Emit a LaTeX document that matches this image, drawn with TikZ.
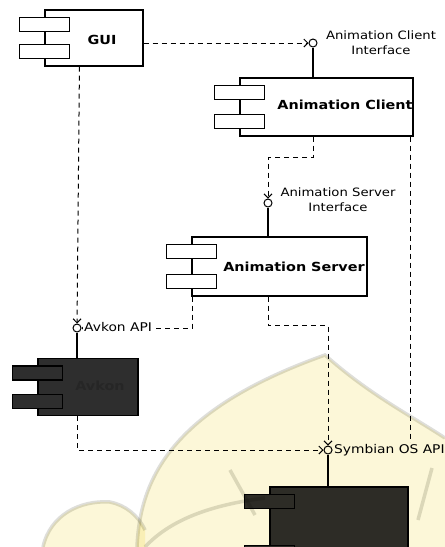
\documentclass[tikz,border=0pt]{standalone}
\usepackage{fontspec}
\setmainfont{DejaVu Sans}
\newfontfamily\widefont[FakeStretch=1.15]{DejaVu Sans}
\usetikzlibrary{arrows.meta,calc}
\definecolor{darkbox}{HTML}{2E2E2E}
\definecolor{wmfill}{HTML}{FCF7D8}
\definecolor{wmline}{HTML}{DEDEDA}
\tikzset{
  box/.style={draw=black, line width=1.1pt, inner sep=0pt},
  port/.style={draw=black, line width=1.1pt, minimum width=50pt, minimum height=14pt, inner sep=0pt},
  lolli/.style={circle, draw=black, fill=white, line width=1pt, minimum size=8pt, inner sep=0pt},
  dep/.style={draw=black, line width=1pt, dash pattern=on 5pt off 4pt, -{Straight Barb[length=4pt,width=8pt]}},
  wire/.style={draw=black, line width=1.3pt},
  cname/.style={font=\widefont\bfseries\fontsize{12.5}{13}\selectfont, inner sep=0pt},
  iname/.style={font=\widefont\fontsize{11.5}{15}\selectfont, align=center, inner sep=1pt, fill=white},
  bname/.style={font=\widefont\fontsize{12}{15}\selectfont, inner sep=1pt, fill=white},
}
\newcommand\umlcomp[6]{%
  \node[box, fill=#6, minimum width=#4pt, minimum height=#5pt] (#1) at (#2,#3) {};
  \node[port, fill=#6] (#1pa) at ($(#1.north west)+(0,15)$) {};
  \node[port, fill=#6] (#1pb) at ($(#1.south west)+(0,-15)$) {};
}
\begin{document}
\begin{tikzpicture}[x=1pt, y=-1pt]
\clip (0,0) rectangle (445,547);
\fill[white] (0,0) rectangle (445,547);

% components
\umlcomp{gui}{94}{38}{98}{56}{white}
\umlcomp{ac}{326.5}{107}{173}{58}{white}
\umlcomp{as}{279.5}{266.5}{175}{59}{white}
\umlcomp{avkon}{88}{387}{100}{57}{darkbox}
\umlcomp{sy}{339}{527}{138}{80}{darkbox}

\node[cname] (guit) at (102,40) {GUI};
\node[cname] (act) at (345,105) {Animation Client};
\node[cname] (ast) at (294,267) {Animation Server};
\node[cname, text=black!85] (avt) at (100,386) {Avkon};

% interfaces
\node[lolli] (acI) at (313,43) {};
\node[lolli] (asI) at (268,203) {};
\node[lolli] (avI) at (77,328) {};
\node[lolli] (syI) at (328,450) {};

% connectors
\draw[dep] (gui.east |- acI) -- (acI);
\draw[wire] (acI) -- (acI |- ac.north);
\draw[dep] (acI |- ac.south) -- ++(0,21) -| (asI);
\draw[wire] (asI) -- (asI |- as.north);
\draw[dep] ($(gui.south west)+(35,0)$) -- (avI);
\draw[wire] (avI) -- (avI |- avkon.north);
\draw[dep] ($(as.south west)+(1,0)$) |- (avI);
\draw[dep] (asI |- as.south) -- ++(0,29) -| (syI);
\draw[dep] ($(ac.south east)+(-3,0)$) |- (syI);
\draw[dep] (avI |- avkon.south) |- (syI);
\draw[wire] (syI) -- (syI |- sy.north);

% interface labels
\node[iname] (acL) at (381,43) {Animation Client\\Interface};
\node[iname] (asL) at (338,200) {Animation Server\\Interface};
\node[bname, anchor=west] (avL) at (83,327) {Avkon API};
\node[bname, anchor=west] (syL) at (333,450) {Symbian OS API};

% watermark (scan background)
\begin{scope}[blend mode=multiply]
\fill[wmfill] (137,547) .. controls (140,480) and (170,410) .. (325,355)
   .. controls (370,395) and (410,415) .. (445,438) -- (445,547) -- cycle;
\fill[wmfill] (43,547) .. controls (50,515) and (80,500) .. (110,502)
   .. controls (125,505) and (138,515) .. (145,530) -- (145,547) -- cycle;
\draw[wmline, line width=3.5pt] (137,547) .. controls (140,480) and (170,410) .. (325,355)
   .. controls (370,395) and (410,415) .. (445,438);
\draw[wmline, line width=3.5pt] (43,547) .. controls (50,515) and (80,500) .. (110,502)
   .. controls (125,505) and (138,515) .. (145,530);
\draw[wmline, line width=3.5pt] (145,547) .. controls (170,520) and (210,505) .. (265,498);
\draw[wmline, line width=3.5pt] (230,470) -- (255,515);
\draw[wmline, line width=3.5pt] (432,468) -- (418,520);
\end{scope}
\end{tikzpicture}
\end{document}
